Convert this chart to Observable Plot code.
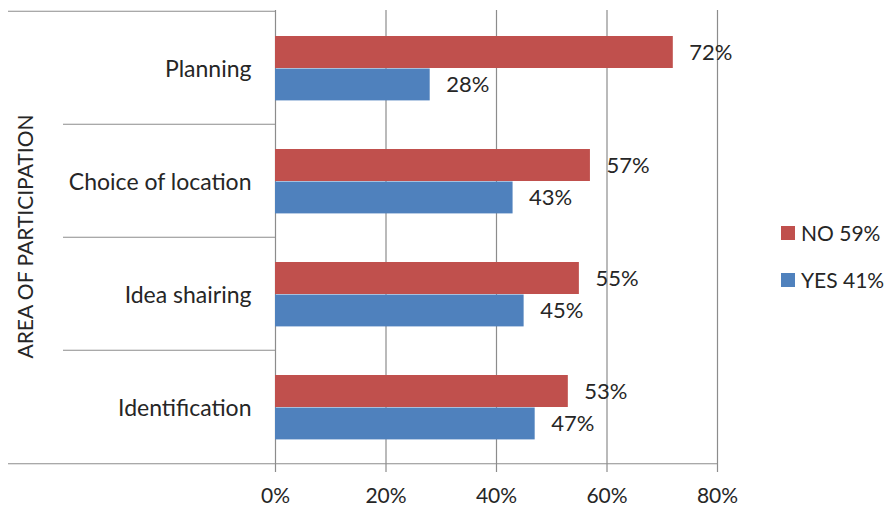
<!DOCTYPE html>
<html>
<head>
<meta charset="utf-8">
<script src="https://cdn.jsdelivr.net/npm/d3@7"></script>
<script src="https://cdn.jsdelivr.net/npm/@observablehq/plot@0.6"></script>
<style>
  html, body { margin: 0; padding: 0; background: #fff; }
  #wrap { position: relative; width: 890px; height: 508px; font-family: Lato, "Open Sans", sans-serif; }
  #legend { position: absolute; left: 781px; top: 209px; font-size: 21px; color: #262626; }
  #legend .item { display: flex; align-items: center; height: 47px; }
  #legend .sw { width: 14px; height: 14px; margin-right: 6px; }
</style>
</head>
<body>
<div id="wrap"></div>
<script>
// ---- data ----
const categories = ["Planning", "Choice of location", "Idea shairing", "Identification"];
const seriesNames = ["NO", "YES"];
const noValues = [72, 57, 55, 53];
const yesValues = [28, 43, 45, 47];
const overallPct = [59, 41];
const xTicks = [0, 20, 40, 60, 80];
const axisTitle = "AREA OF PARTICIPATION";
const colors = ["#C0504D", "#4F81BD"];

const noData = categories.map((c, i) => ({category: c, value: noValues[i] / 100}));
const yesData = categories.map((c, i) => ({category: c, value: yesValues[i] / 100}));
const tickVals = xTicks.map(t => t / 100);

const W = 890, H = 508;
const mTop = 10, mBottom = 44, mLeft = 275, mRight = 173;
const band = (H - mTop - mBottom) / categories.length;
const lineColor = "#8c8c8c";
const textColor = "#262626";
const font = "Lato, 'Open Sans', sans-serif";

const chart = Plot.plot({
  width: W,
  height: H,
  marginTop: mTop,
  marginBottom: mBottom,
  marginLeft: mLeft,
  marginRight: mRight,
  style: {fontFamily: font, fontSize: "21px", color: textColor, background: "#fff"},
  x: {domain: [tickVals[0], tickVals[tickVals.length - 1]], ticks: tickVals, tickFormat: d3.format(".0%"), tickSize: 0, tickPadding: 23, label: null},
  y: {domain: categories, padding: 0, tickSize: 0, tickPadding: 24, label: null},
  marks: [
    // vertical gridlines (with tick extension below axis)
    Plot.ruleX(tickVals, {stroke: lineColor, strokeWidth: 1.2, insetBottom: -8}),
    // category separators on the left
    Plot.ruleY(categories.slice(0, 1), {y: d => d, x1: tickVals[0], x2: tickVals[0], dy: -band / 2, insetLeft: -267, stroke: lineColor, strokeWidth: 1.2}),
    Plot.ruleY(categories.slice(1), {y: d => d, x1: tickVals[0], x2: tickVals[0], dy: -band / 2, insetLeft: -212, stroke: lineColor, strokeWidth: 1.2}),
    // bottom axis line
    Plot.ruleY(categories.slice(-1), {y: d => d, x1: tickVals[0], x2: tickVals[tickVals.length - 1], dy: band / 2, insetLeft: -267, stroke: lineColor, strokeWidth: 1.2}),
    // bars
    Plot.barX(noData, {x: "value", y: "category", fill: colors[0], insetTop: 25, insetBottom: band - 57.5}),
    Plot.barX(yesData, {x: "value", y: "category", fill: colors[1], insetTop: 57.5, insetBottom: band - 89.9}),
    // data labels
    Plot.text(noData, {x: "value", y: "category", text: d => d3.format(".0%")(d.value), dx: 16, dy: -15.5, textAnchor: "start", fill: textColor, fontSize: 22}),
    Plot.text(yesData, {x: "value", y: "category", text: d => d3.format(".0%")(d.value), dx: 16, dy: 17, textAnchor: "start", fill: textColor, fontSize: 22}),
    // axis title
    Plot.text([axisTitle], {frameAnchor: "left", text: d => d, rotate: -90, textAnchor: "middle", dx: -249, dy: -1, fill: textColor, fontSize: 21}),
    Plot.axisX({tickSize: 0, tickPadding: 24, tickFormat: d3.format(".0%"), ticks: tickVals, fontSize: 21, label: null}),
    Plot.axisY({tickSize: 0, tickPadding: 24, fontSize: 23, label: null, dy: 2})
  ]
});

const wrap = document.getElementById("wrap");
wrap.appendChild(chart);

const legend = document.createElement("div");
legend.id = "legend";
seriesNames.forEach((s, i) => {
  const item = document.createElement("div");
  item.className = "item";
  const sw = document.createElement("span");
  sw.className = "sw";
  sw.style.background = colors[i];
  const tx = document.createElement("span");
  tx.textContent = `${s} ${overallPct[i]}%`;
  item.appendChild(sw);
  item.appendChild(tx);
  legend.appendChild(item);
});
wrap.appendChild(legend);
</script>
</body>
</html>
